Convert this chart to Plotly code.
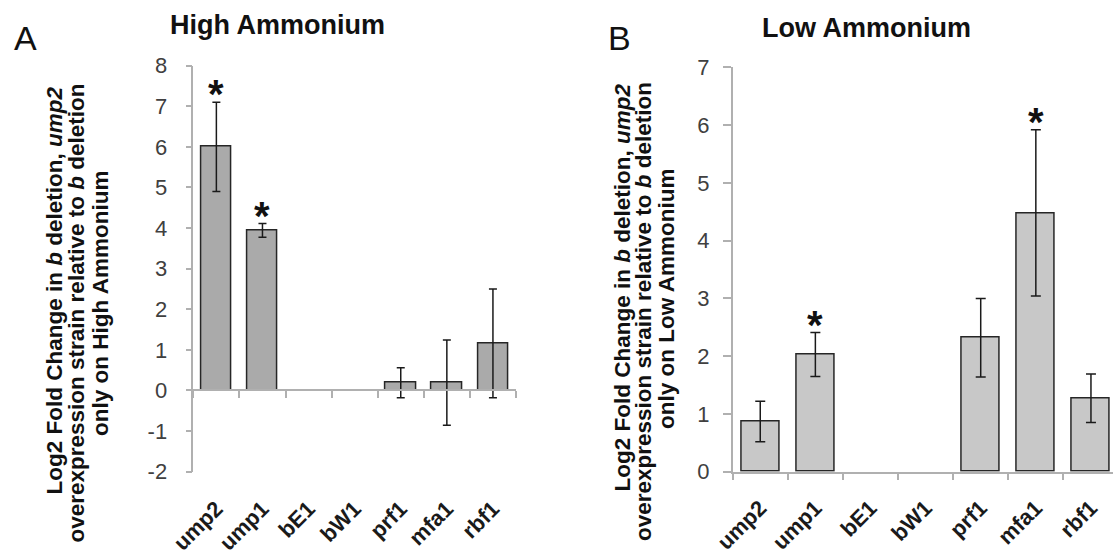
import plotly.graph_objects as go

genes = ["ump2", "ump1", "bE1", "bW1", "prf1", "mfa1", "rbf1"]
high_vals = [6.0, 3.94, None, None, 0.19, 0.19, 1.16]
high_err = [1.1, 0.17, None, None, 0.37, 1.05, 1.34]
high_sig = ["*", "*", "", "", "", "", ""]
low_vals = [0.87, 2.03, None, None, 2.32, 4.48, 1.27]
low_err = [0.35, 0.38, None, None, 0.68, 1.44, 0.42]
low_sig = ["", "*", "", "", "", "*", ""]
yA_ticks = [-2, -1, 0, 1, 2, 3, 4, 5, 6, 7, 8]
yA_ticklabels = ["-2", "-1", "0", "1", "2", "3", "4", "5", "6", "7", "8"]
yB_ticks = [0, 1, 2, 3, 4, 5, 6, 7]
yB_ticklabels = ["0", "1", "2", "3", "4", "5", "6", "7"]

W, H = 1113, 556
FONT = "Liberation Sans, Arial, sans-serif"
xpos = list(range(len(genes)))

fig = go.Figure()

# Panel A bars
fig.add_trace(go.Bar(
    x=xpos, y=high_vals, width=0.655,
    marker=dict(color="#aaaaaa", line=dict(color="#262626", width=1.5)),
    error_y=dict(type="data", array=high_err, color="#1a1a1a", thickness=1.5, width=4),
    xaxis="x", yaxis="y", showlegend=False,
))
# Panel B bars
fig.add_trace(go.Bar(
    x=xpos, y=low_vals, width=0.69,
    marker=dict(color="#c8c8c8", line=dict(color="#262626", width=1.5)),
    error_y=dict(type="data", array=low_err, color="#1a1a1a", thickness=1.5, width=5),
    xaxis="x2", yaxis="y2", showlegend=False,
))
# invisible traces to create overlay axes for the category tick marks
fig.add_trace(go.Scatter(x=[0], y=[0], mode="markers", marker=dict(opacity=0),
                         xaxis="x3", yaxis="y", showlegend=False, hoverinfo="skip"))
fig.add_trace(go.Scatter(x=[0], y=[0], mode="markers", marker=dict(opacity=0),
                         xaxis="x4", yaxis="y2", showlegend=False, hoverinfo="skip"))

yA_dom = [0.1518, 0.8820]
yA_rng = [-2, 8]
yB_dom = [0.1516, 0.8788]
yB_rng = [0, 7]
xA_dom = [0.1737, 0.4636]
xB_dom = [0.6583, 1.0]
xA_rng = [-0.5, 6.5]
xB_rng = [-0.5, 6.40]

zeroA = yA_dom[0] + (0 - yA_rng[0]) / (yA_rng[1] - yA_rng[0]) * (yA_dom[1] - yA_dom[0])
bounds = [i - 0.5 for i in range(len(genes) + 1)]

ytick_font = dict(family=FONT, size=22, color="#404040")
xtick_font = dict(family=FONT, size=22, color="#1a1a1a")
AXC = "#b0b0b0"

common_x = dict(tickmode="array", tickvals=xpos, ticktext=[f"<b>{g}</b>" for g in genes],
                tickangle=-45, ticks="", showline=False, showgrid=False, zeroline=False,
                tickfont=xtick_font, automargin=False)
common_y = dict(tickmode="array", showgrid=False, zeroline=False, showline=True, linecolor=AXC,
                linewidth=1.5, ticks="outside", tickcolor=AXC, tickwidth=1.5,
                tickfont=ytick_font, automargin=False)
common_t = dict(tickmode="array", tickvals=bounds, showticklabels=False, side="bottom",
                ticks="outside", ticklen=7, tickcolor=AXC, tickwidth=1.5,
                showline=True, linecolor=AXC, linewidth=1.5, showgrid=False, zeroline=False,
                automargin=False)

fig.update_layout(
    width=W, height=H,
    margin=dict(l=0, r=0, t=0, b=0, pad=0, autoexpand=False),
    paper_bgcolor="white", plot_bgcolor="white",
    showlegend=False,
    bargap=0,
    xaxis=dict(domain=xA_dom, range=xA_rng, anchor="y", ticklabelstandoff=19, **common_x),
    yaxis=dict(domain=yA_dom, range=yA_rng, anchor="x", tickvals=yA_ticks, ticktext=yA_ticklabels,
               ticklen=6, ticklabelstandoff=14, **common_y),
    xaxis3=dict(overlaying="x", anchor="free", position=zeroA, range=xA_rng, **common_t),
    xaxis2=dict(domain=xB_dom, range=xB_rng, anchor="y2", ticklabelstandoff=18, **common_x),
    yaxis2=dict(domain=yB_dom, range=yB_rng, anchor="x2", tickvals=yB_ticks, ticktext=yB_ticklabels,
                ticklen=8, ticklabelstandoff=9, **common_y),
    xaxis4=dict(overlaying="x2", anchor="y2", range=xB_rng, **common_t),
)

ann = []
# significance stars
for xref, yref, vals, errs, sigs in [("x", "y", high_vals, high_err, high_sig),
                                     ("x2", "y2", low_vals, low_err, low_sig)]:
    for i, s in enumerate(sigs):
        if s and vals[i] is not None:
            ann.append(dict(x=i, y=vals[i] + errs[i], xref=xref, yref=yref, text=f"<b>{s}</b>",
                            showarrow=False, yanchor="bottom", yshift=-16,
                            font=dict(family=FONT, size=40, color="#111")))

# Titles
ann.append(dict(x=277 / W, y=1 - 25.2 / H, xref="paper", yref="paper", text="<b>High Ammonium</b>",
                showarrow=False, xanchor="center", yanchor="middle",
                font=dict(family=FONT, size=27, color="#111")))
ann.append(dict(x=866.6 / W, y=1 - 27.5 / H, xref="paper", yref="paper", text="<b>Low Ammonium</b>",
                showarrow=False, xanchor="center", yanchor="middle",
                font=dict(family=FONT, size=27, color="#111")))
# Panel letters
ann.append(dict(x=25.7 / W, y=1 - 38.1 / H, xref="paper", yref="paper", text="A",
                showarrow=False, xanchor="center", yanchor="middle",
                font=dict(family=FONT, size=34, color="#111")))
ann.append(dict(x=619.5 / W, y=1 - 38 / H, xref="paper", yref="paper", text="B",
                showarrow=False, xanchor="center", yanchor="middle",
                font=dict(family=FONT, size=34, color="#111")))

# Y-axis titles (three lines each, rotated)
linesA = ["<b>Log2 Fold Change in <i>b</i> deletion, <i>ump2</i></b>",
          "<b>overexpression strain relative to <i>b</i> deletion</b>",
          "<b>only on High Ammonium</b>"]
linesB = ["<b>Log2 Fold Change in <i>b</i> deletion, <i>ump2</i></b>",
          "<b>overexpression strain relative to <i>b</i> deletion</b>",
          "<b>only on Low Ammonium</b>"]
posA = [(53.5, 291), (75.5, 313), (100, 304)]
posB = [(621.5, 288), (643, 312), (666, 299)]
for lines, pos in [(linesA, posA), (linesB, posB)]:
    for t, (px, py) in zip(lines, pos):
        ann.append(dict(x=px / W, y=1 - py / H, xref="paper", yref="paper", text=t,
                        showarrow=False, textangle=-90, xanchor="center", yanchor="middle",
                        font=dict(family=FONT, size=22.5, color="#111")))

fig.update_layout(annotations=ann)
fig.write_html("out.html", config={"displayModeBar": False},
               post_script="document.body.style.margin='0';document.body.style.overflow='hidden';")
